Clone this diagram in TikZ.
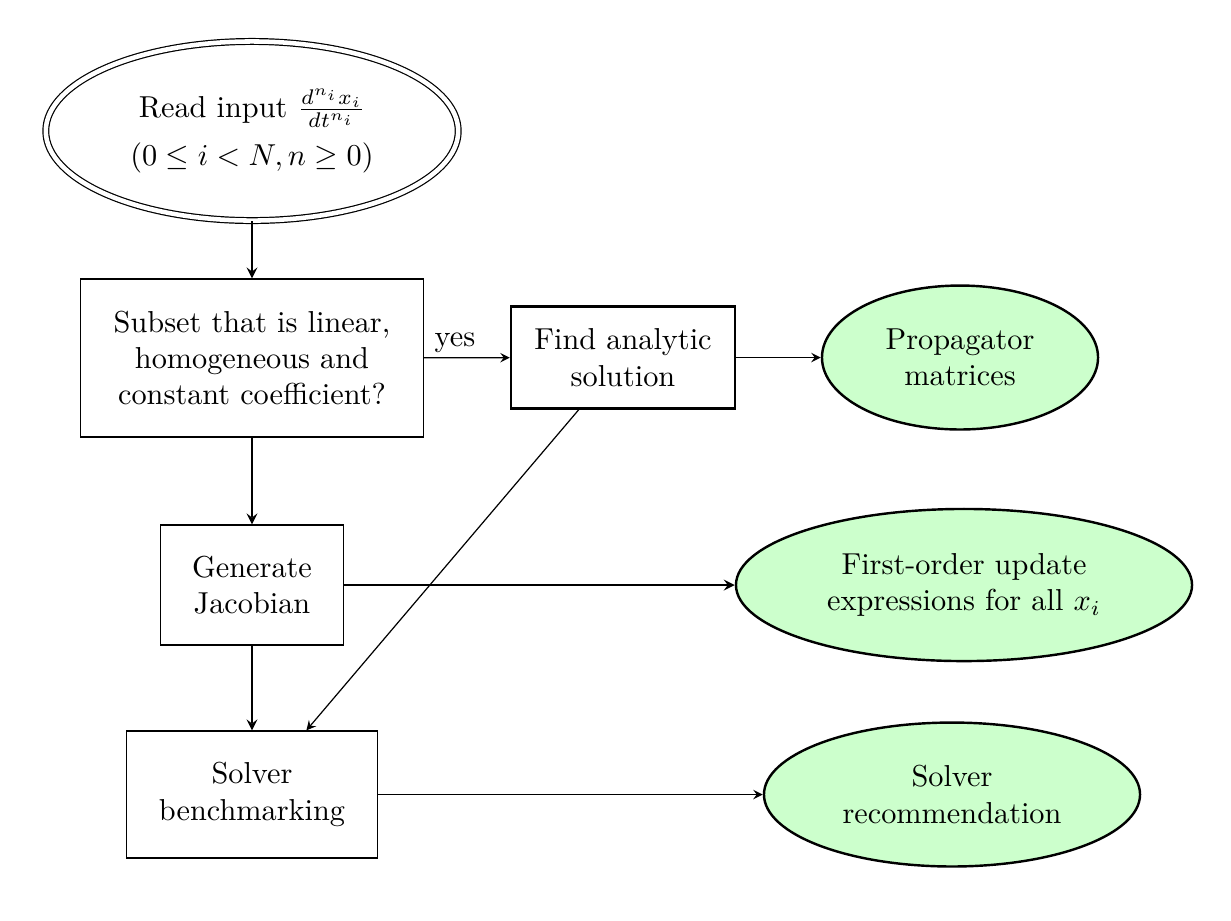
\documentclass[tikz,border=0pt]{standalone}
\usetikzlibrary{shapes.geometric,arrows}
\definecolor{outgreen}{rgb}{0.8,1,0.8}
\begin{document}
\begin{tikzpicture}[x=0.33pt,y=-0.33pt,
  boxnode/.style={draw,thin,rectangle,align=center,inner sep=0pt},
  outnode/.style={draw,thick,ellipse,fill=outgreen,align=center,inner sep=0pt},
  arr/.style={-stealth,thin},
  arrb/.style={-stealth,semithick}]
\useasboundingbox (0,0) rectangle (1231,920);
\node[draw,thin,ellipse,double,double distance=1.5pt,align=center,inner sep=0pt,
      minimum width=136.1pt,minimum height=59.1pt] (read) at (252,131)
      {Read input $\frac{d^{n_i}x_i}{dt^{n_i}}$\\[4pt] $(0\leq i<N, n\geq 0)$};
\node[boxnode,minimum width=113.2pt,minimum height=52.1pt] (subset) at (252,358)
      {Subset that is linear,\\ homogeneous and\\ constant coefficient?};
\node[boxnode,thick,minimum width=73.9pt,minimum height=33.7pt] (find) at (623,357.5)
      {Find analytic\\ solution};
\node[outnode,minimum width=91.1pt,minimum height=47.5pt] (prop) at (960,357.5)
      {Propagator\\ matrices};
\node[boxnode,minimum width=60.4pt,minimum height=39.6pt] (jac) at (252,585)
      {Generate\\ Jacobian};
\node[outnode,minimum width=150.5pt,minimum height=50.2pt] (first) at (964,585)
      {First-order update\\ expressions for all $x_i$};
\node[boxnode,minimum width=82.8pt,minimum height=41.9pt] (bench) at (252,794.5)
      {Solver\\ benchmarking};
\node[outnode,minimum width=124.1pt,minimum height=47.5pt] (rec) at (952,794.5)
      {Solver\\ recommendation};
\draw[arrb] (read) -- (subset);
\draw[arr] (subset) -- node[pos=0.36,above,inner sep=1.5pt] {yes} (find);
\draw[arr] (find) -- (prop);
\draw[arrb] (subset) -- (jac);
\draw[arrb] (jac) -- (first);
\draw[arrb] (jac) -- (bench);
\draw[arr] (find) -- (bench);
\draw[arr] (bench) -- (rec);
\end{tikzpicture}
\end{document}
